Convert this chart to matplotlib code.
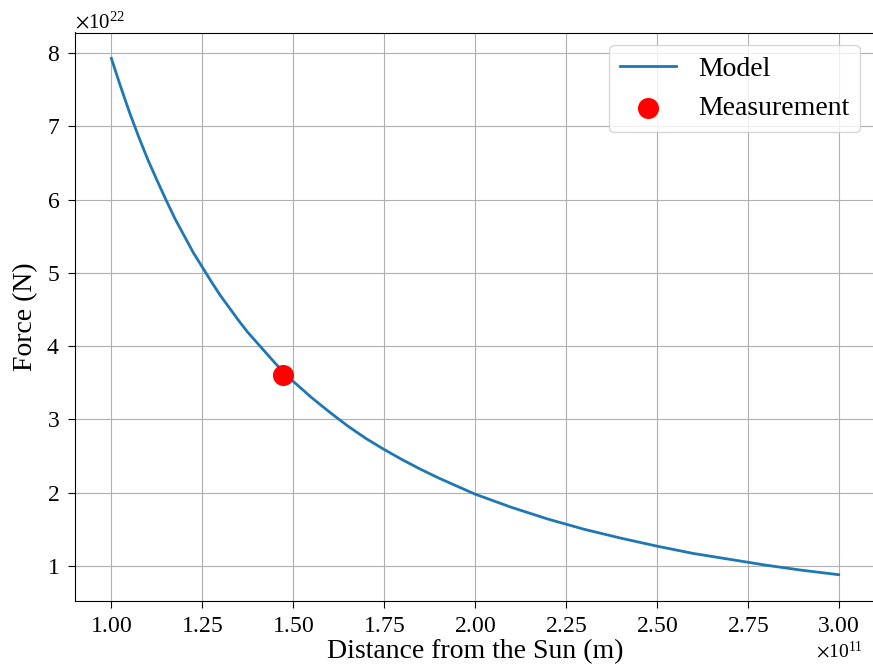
import numpy as np
import matplotlib.pyplot as plt
from matplotlib.ticker import ScalarFormatter

plt.rcParams['font.family'] = ['Liberation Serif', 'DejaVu Serif']
plt.rcParams['mathtext.fontset'] = 'stix'

# model curve (distance in 1e11 m, force in 1e22 N)
distance = np.array([1.000, 1.025, 1.050, 1.075, 1.100, 1.125, 1.150, 1.175, 1.200, 1.225,
                     1.250, 1.275, 1.300, 1.325, 1.350, 1.375, 1.400, 1.425, 1.450, 1.475,
                     1.500, 1.55, 1.60, 1.65, 1.70, 1.75, 1.80, 1.85, 1.90, 1.95,
                     2.00, 2.10, 2.20, 2.30, 2.40, 2.50, 2.60, 2.70, 2.80, 2.90, 3.00]) * 1e11
force = np.array([7.93, 7.55, 7.19, 6.86, 6.55, 6.27, 6.00, 5.74, 5.51, 5.28,
                  5.08, 4.88, 4.69, 4.52, 4.35, 4.19, 4.05, 3.91, 3.77, 3.64,
                  3.52, 3.30, 3.10, 2.91, 2.74, 2.59, 2.45, 2.32, 2.20, 2.09,
                  1.98, 1.80, 1.64, 1.50, 1.38, 1.27, 1.17, 1.09, 1.01, 0.94, 0.88]) * 1e22

meas_distance = [1.473e11]
meas_force = [3.61e22]

fig = plt.figure(figsize=(8.73, 6.71), dpi=100)
ax = fig.add_axes([75/873, 1 - 600.5/671, 800/873, (600.5 - 32.5)/671])

ax.plot(distance, force, color='C0', lw=2, label='Model')
ax.scatter(meas_distance, meas_force, color='red', s=200, zorder=3, label='Measurement')

for axis in (ax.xaxis, ax.yaxis):
    fmt = ScalarFormatter(useMathText=True)
    axis.set_major_formatter(fmt)

ax.set_xlabel('Distance from the Sun (m)', fontsize=20, labelpad=2)
ax.set_ylabel('Force (N)', fontsize=20, labelpad=6)
ax.tick_params(labelsize=17, length=5, pad=6)
ax.xaxis.get_offset_text().set_fontsize(14)
ax.xaxis.get_offset_text().set_x(0.985)
ax.yaxis.get_offset_text().set_fontsize(15)
ax.grid(True)
ax.legend(loc='upper right', fontsize=20, bbox_to_anchor=(0.999, 1.002))

fig.savefig('out.png', dpi=100)
